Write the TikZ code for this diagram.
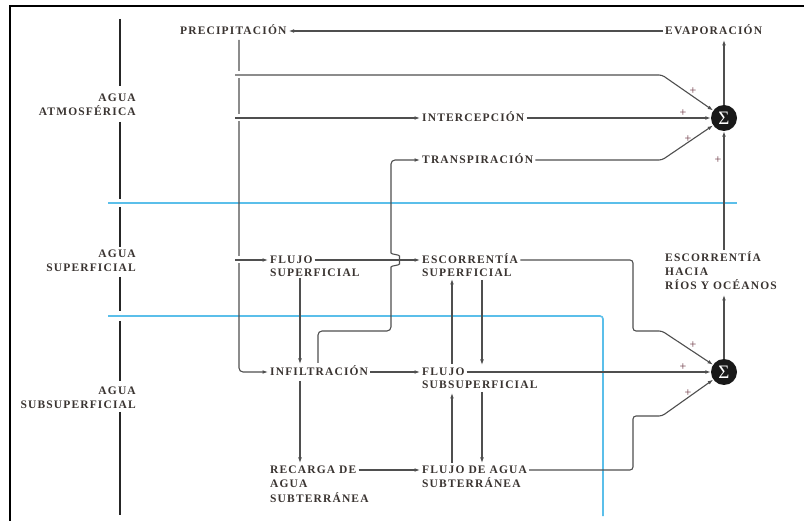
\documentclass[tikz,border=0pt]{standalone}
\usepackage{fontspec}
\setmainfont{Liberation Serif}
\newfontfamily\lblfont[LetterSpace=10]{Liberation Serif}
\usetikzlibrary{arrows.meta}
\definecolor{txtc}{HTML}{3A3431}
\definecolor{linec}{HTML}{4F4F4F}
\definecolor{bluec}{HTML}{5BBFEA}
\definecolor{plusc}{HTML}{6A3440}
\begin{document}
\begin{tikzpicture}[x=1pt,y=-1pt,
 lbl/.style={font=\lblfont\bfseries\fontsize{11.5}{13}\selectfont, text=txtc, inner xsep=2pt, inner ysep=0pt, text height=8pt, text depth=0pt, anchor=west},
 lblr/.style={lbl, anchor=east},
 conn/.style={draw=linec, line width=1.1pt},
 arr/.style={conn, -{Latex[length=5.5pt,width=3.8pt]}},
 sumnode/.style={circle, fill=black!90, minimum size=26pt, inner sep=0pt, text=white, font=\fontsize{19}{19}\selectfont},
 plus/.style={text=plusc, font=\fontsize{12}{12}\selectfont, inner sep=0pt},
 axis/.style={draw=black!85, line width=1.4pt},
 band/.style={draw=bluec, line width=1.6pt},
 gapw/.style={draw=white, line width=7pt}
]
\useasboundingbox (0,0) rectangle (804,521);
\fill[white] (0,0) rectangle (804,521);
% frame
\draw[black, line width=2pt] (804,6) -- (10,6) -- (10,521);
% blue bands
\draw[band] (108,203) -- (737,203);
\draw[band, rounded corners=3pt] (108,316) -- (603,316) -- (603,516);
% level labels
\node[lblr] (atm1) at (138,98) {AGUA};
\node[lblr] (atm2) at (138,112) {ATMOSFÉRICA};
\node[lblr] (sup1) at (138,254) {AGUA};
\node[lblr] (sup2) at (138,268) {SUPERFICIAL};
\node[lblr] (sub1) at (138,391) {AGUA};
\node[lblr] (sub2) at (138,405) {SUBSUPERFICIAL};
% axis
\draw[axis] (120,19) -- (120,86) (120,122) -- (120,199) (120,207) -- (120,247)
  (120,277) -- (120,311) (120,321) -- (120,381) (120,412) -- (120,515);
% process labels
\node[lbl] (prec) at (178,31) {PRECIPITACIÓN};
\node[lbl] (evap) at (663,31) {EVAPORACIÓN};
\node[lbl] (inter) at (420,118) {INTERCEPCIÓN};
\node[lbl] (transp) at (420,160) {TRANSPIRACIÓN};
\node[lbl] (flujo1) at (268,260) {FLUJO};
\node[lbl] (flujo2) at (268,273) {SUPERFICIAL};
\node[lbl] (escor1) at (420,260) {ESCORRENTÍA};
\node[lbl] (escor2) at (420,273) {SUPERFICIAL};
\node[lbl] (rios1) at (663,258) {ESCORRENTÍA};
\node[lbl] (rios2) at (663,272) {HACIA};
\node[lbl] (rios3) at (663,286) {RÍOS Y OCÉANOS};
\node[lbl] (infil) at (268,372) {INFILTRACIÓN};
\node[lbl] (subsup1) at (420,372) {FLUJO};
\node[lbl] (subsup2) at (420,385) {SUBSUPERFICIAL};
\node[lbl] (rec1) at (268,470) {RECARGA DE};
\node[lbl] (rec2) at (268,484) {AGUA};
\node[lbl] (rec3) at (268,498) {SUBTERRÁNEA};
\node[lbl] (subt1) at (420,470) {FLUJO DE AGUA};
\node[lbl] (subt2) at (420,484) {SUBTERRÁNEA};
% sums
\node[sumnode] (s1) at (724,118) {Σ};
\node[sumnode] (s2) at (724,372) {Σ};
% plus signs
\node[plus] (p1) at (693,91) {+};
\node[plus] (p2) at (683,113) {+};
\node[plus] (p3) at (688,139) {+};
\node[plus] (p4) at (718,160) {+};
\node[plus] (p5) at (693,345) {+};
\node[plus] (p6) at (683,367) {+};
\node[plus] (p7) at (688,393) {+};
% coordinates
\coordinate (pv) at (239,40);
\coordinate (b1) at (235,75);
\coordinate (k1) at (662,75);
\coordinate (b2) at (235,118);
\coordinate (b3) at (235,260);
\coordinate (tk) at (662,160);
\coordinate (f0) at (318,363);
\coordinate (f1) at (318,331);
\coordinate (f2) at (391,331);
\coordinate (fb0) at (391,271);
\coordinate (fb1) at (399.5,260);
\coordinate (fb2) at (391,249);
\coordinate (f3) at (391,160);
\coordinate (fd0) at (300,278);
\coordinate (fd1) at (300,364);
\coordinate (id0) at (300,381);
\coordinate (id1) at (300,463);
\coordinate (a1) at (452,364);
\coordinate (a2) at (452,279);
\coordinate (a3) at (482,280);
\coordinate (a4) at (482,365);
\coordinate (a5) at (452,463);
\coordinate (a6) at (452,393);
\coordinate (a7) at (482,392);
\coordinate (a8) at (482,463);
\coordinate (e1) at (633,260);
\coordinate (e2) at (633,331);
\coordinate (e3) at (662,331);
\coordinate (g1) at (633,470);
\coordinate (g2) at (633,416);
\coordinate (g3) at (662,416);
\coordinate (r0) at (724,295);
\coordinate (r1) at (724,250);
\coordinate (ev0) at (724,40);
% connectors
\draw[arr] (evap.west) -- (prec.east);
\draw[arr, rounded corners=4pt] (pv) -- (pv |- infil.west) -- (infil.west);
\draw[gapw] (236.5,75) -- (241.5,75);
\draw[gapw] (236.5,118) -- (241.5,118);
\draw[gapw] (236.5,260) -- (241.5,260);
\draw[arr, rounded corners=3pt] (b1) -- (k1) -- (s1);
\draw[arr] (b2) -- (inter.west);
\draw[arr] (b3) -- (flujo1.west);
\draw[arr] (inter.east) -- (s1);
\draw[arr, rounded corners=3pt] (transp.east) -- (tk) -- (s1);
\draw[arr, rounded corners=4pt] (f0) -- (f1) -- (f2) -- (fb0)
  to[out=90,in=-90] (fb1) to[out=90,in=-90] (fb2) -- (f3) -- (transp.west);
\draw[arr] (flujo1.east) -- (escor1.west);
\draw[arr] (fd0) -- (fd1);
\draw[arr] (infil.east) -- (subsup1.west);
\draw[arr] (id0) -- (id1);
\draw[arr] (rec1.east) -- (subt1.west);
\draw[arr] (a1) -- (a2);
\draw[arr] (a3) -- (a4);
\draw[arr] (a5) -- (a6);
\draw[arr] (a7) -- (a8);
\draw[arr] (subsup1.east) -- (s2);
\draw[arr, rounded corners=3pt] (escor1.east) -- (e1) -- (e2) -- (e3) -- (s2);
\draw[arr, rounded corners=3pt] (subt1.east) -- (g1) -- (g2) -- (g3) -- (s2);
\draw[arr] (s2) -- (r0);
\draw[arr] (r1) -- (s1);
\draw[arr] (s1) -- (ev0);
\end{tikzpicture}
\end{document}
